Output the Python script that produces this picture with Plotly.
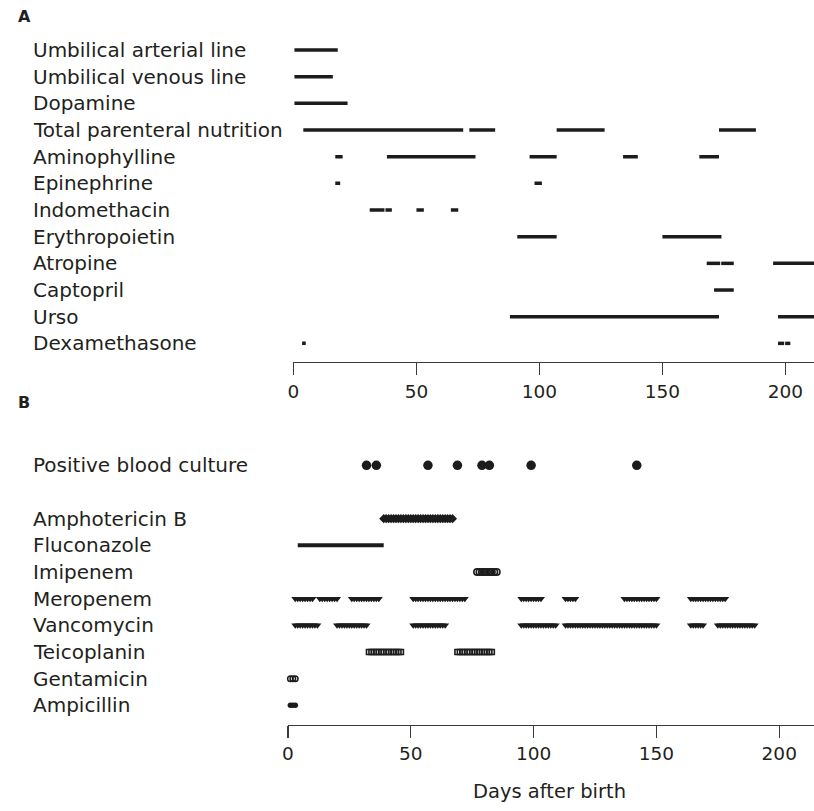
import numpy as np
import plotly.graph_objects as go

# ---------------- Panel A data (start day, end day) ----------------
rows_A = ["Umbilical arterial line", "Umbilical venous line", "Dopamine",
          "Total parenteral nutrition", "Aminophylline", "Epinephrine",
          "Indomethacin", "Erythropoietin", "Atropine", "Captopril", "Urso",
          "Dexamethasone"]
umbilical_arterial = [(0.4, 18)]
umbilical_venous = [(0.4, 16)]
dopamine = [(0.4, 22)]
tpn = [(4, 69), (71.5, 82), (107, 126.5), (173, 188)]
aminophylline = [(17, 20), (38, 74), (96, 107), (134, 140), (165, 173)]
epinephrine = [(17, 19), (98, 101)]
indomethacin = [(31, 37), (37.4, 40), (50, 53), (64, 67)]
erythropoietin = [(91, 107), (150, 174)]
atropine = [(168, 173.5), (173.9, 179), (195, 212)]
captopril = [(171, 179)]
urso = [(88, 173), (197, 213)]
dexamethasone = [(3.5, 5), (197, 199.5), (199.9, 202)]
segments_A = [umbilical_arterial, umbilical_venous, dopamine, tpn, aminophylline,
              epinephrine, indomethacin, erythropoietin, atropine, captopril,
              urso, dexamethasone]

# ---------------- Panel B data ----------------
rows_B = ["Positive blood culture", "", "Amphotericin B", "Fluconazole",
          "Imipenem", "Meropenem", "Vancomycin", "Teicoplanin", "Gentamicin",
          "Ampicillin"]
blood_culture_days = [32, 36, 57, 69, 79, 82, 99, 142]
amphotericin_b = [(39, 67)]
fluconazole = [(4, 39)]
imipenem = [(77, 85)]
meropenem = [(3, 10), (13, 20), (26, 37), (51, 72), (95, 103), (113, 117),
             (137, 150), (164, 178)]
vancomycin = [(3, 12), (20, 32), (51, 64), (95, 109), (113, 150), (164, 169),
              (175, 190)]
teicoplanin = [(33, 46), (69, 83)]
gentamicin = [(1, 3)]
ampicillin = [(1, 3)]

tick_vals = [0, 50, 100, 150, 200]
x_title = "Days after birth"

INK = "#1c1c1c"
TXT = "#231f20"
FONT = "DejaVu Sans"
LABEL_SIZE = 20
W, H = 814, 811

fig = go.Figure()


def seg_line(segs, row):
    xs, ys = [], []
    for s, e in segs:
        xs += [s, e, None]
        ys += [row, row, None]
    return xs, ys


# Panel A bars
for i, segs in enumerate(segments_A):
    xs, ys = seg_line(segs, i)
    fig.add_trace(go.Scatter(x=xs, y=ys, mode="lines", xaxis="x", yaxis="y",
                             line=dict(color=INK, width=3.5),
                             hoverinfo="skip", cliponaxis=True))


def daily(segs):
    xs = []
    for s, e in segs:
        xs += list(np.arange(s, e + 0.01, 1.0))
    return xs


def marker_row(segs, row, symbol, size, lw=0, fill=INK):
    xs = daily(segs)
    fig.add_trace(go.Scatter(x=xs, y=[row] * len(xs), mode="markers",
                             xaxis="x2", yaxis="y2", cliponaxis=False,
                             marker=dict(symbol=symbol, size=size, color=fill,
                                         line=dict(color=INK, width=lw)),
                             hoverinfo="skip"))


# Panel B
fig.add_trace(go.Scatter(x=blood_culture_days, y=[0] * len(blood_culture_days),
                         mode="markers", xaxis="x2", yaxis="y2",
                         marker=dict(symbol="circle", size=9.5, color=INK),
                         hoverinfo="skip"))
marker_row(amphotericin_b, 2, "diamond", 7)
xs, ys = seg_line(fluconazole, 3)
fig.add_trace(go.Scatter(x=xs, y=ys, mode="lines", xaxis="x2", yaxis="y2",
                         line=dict(color=INK, width=4), hoverinfo="skip"))
marker_row(imipenem, 4, "circle-open", 6.5, lw=1.6)
marker_row(meropenem, 5, "triangle-down", 7)
marker_row(vancomycin, 6, "triangle-down", 7)
marker_row(teicoplanin, 7, "square-open", 5, lw=1.6)
marker_row(gentamicin, 8, "circle-open", 5.5, lw=1.5)
marker_row(ampicillin, 9, "circle", 5.5)

# geometry (pixels)
A_x0, A_scale, A_axis, A_row0, A_top = 289.6, 2.478, 362.0, 50.0, 25.0
B_x0, B_scale, B_axis, B_row0, B_top = 284.0, 2.475, 724.5, 465.3, 420.0
ROW = 26.67

axis_common = dict(showline=True, linecolor="#3a3a3a", linewidth=1.3,
                   ticks="outside", ticklen=12, tickwidth=1.3, tickcolor="#3a3a3a",
                   tickvals=tick_vals, showgrid=False, zeroline=False,
                   tickfont=dict(family=FONT, size=18.5, color=TXT), fixedrange=True)
yhidden = dict(visible=False, showgrid=False, zeroline=False, fixedrange=True)

annotations = []
for i, name in enumerate(rows_A):
    annotations.append(dict(text=name, xref="paper", yref="y", x=26 / W, y=i,
                            xanchor="left", yanchor="middle", showarrow=False,
                            borderpad=0,
                            font=dict(family=FONT, size=LABEL_SIZE, color=TXT)))
for i, name in enumerate(rows_B):
    if name:
        annotations.append(dict(text=name, xref="paper", yref="y2", x=26 / W, y=i,
                                xanchor="left", yanchor="middle", showarrow=False,
                                borderpad=0,
                                font=dict(family=FONT, size=LABEL_SIZE, color=TXT)))
annotations.append(dict(text="<b>A</b>", xref="paper", yref="paper", x=10 / W,
                        y=1 - 16 / H, xanchor="left", yanchor="middle",
                        showarrow=False, font=dict(family=FONT, size=16, color=TXT)))
annotations.append(dict(text="<b>B</b>", xref="paper", yref="paper", x=10 / W,
                        y=1 - 403 / H, xanchor="left", yanchor="middle",
                        showarrow=False, font=dict(family=FONT, size=16, color=TXT)))
annotations.append(dict(text=x_title, xref="paper", yref="paper", x=548 / W,
                        y=1 - 791 / H, xanchor="center", yanchor="middle",
                        showarrow=False, font=dict(family=FONT, size=19.5, color=TXT)))

fig.update_layout(
    width=W, height=H, margin=dict(l=0, r=0, t=0, b=0),
    paper_bgcolor="white", plot_bgcolor="white", showlegend=False,
    xaxis=dict(domain=[A_x0 / W, 1], range=[0, (W - A_x0) / A_scale],
               anchor="y", **axis_common),
    yaxis=dict(domain=[1 - A_axis / H, 1 - A_top / H],
               range=[(A_axis - A_row0) / ROW, (A_top - A_row0) / ROW], **yhidden),
    xaxis2=dict(domain=[B_x0 / W, 1], range=[0, (W - B_x0) / B_scale],
                anchor="y2", **axis_common),
    yaxis2=dict(domain=[1 - B_axis / H, 1 - B_top / H],
                range=[(B_axis - B_row0) / ROW, (B_top - B_row0) / ROW], **yhidden),
    annotations=annotations,
)

fig.write_html("out.html",
               config={"displayModeBar": False, "staticPlot": True},
               post_script="document.body.style.margin='0';"
                           "document.documentElement.style.margin='0';")
